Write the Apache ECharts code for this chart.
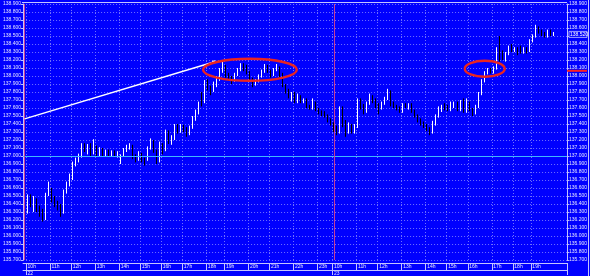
<!DOCTYPE html>
<html><head><meta charset="utf-8">
<script src="https://cdn.jsdelivr.net/npm/echarts@6/dist/echarts.min.js"></script>
<style>html,body{margin:0;padding:0;background:#0000ff;}#c{width:590px;height:276px;}</style>
</head><body><div id="c"></div>
<script>
// ---- data ----
const opens = [136.12,136.30,136.46,136.34,136.44,136.33,136.30,136.23,136.52,136.57,136.46,136.41,136.37,136.30,136.56,136.64,136.72,136.90,136.94,137.00,
137.12,137.06,137.11,137.04,137.11,137.03,137.08,137.03,137.06,137.02,137.05,137.01,136.92,137.00,137.07,137.10,137.12,136.98,136.96,137.02,
136.96,136.96,137.10,137.18,137.06,136.94,137.12,137.08,137.28,137.18,137.22,137.36,137.32,137.37,137.33,137.28,137.36,137.46,137.54,137.78,
137.68,137.92,137.86,137.82,137.88,137.96,138.06,138.12,138.02,137.99,137.95,138.02,138.08,138.12,138.10,138.05,137.96,137.91,137.94,138.00,
138.06,138.12,138.06,138.02,138.08,138.10,138.02,137.88,137.82,137.74,137.78,137.70,137.74,137.68,137.70,137.62,137.60,137.66,137.58,137.56,
137.54,137.50,137.45,137.40,137.34,137.30,137.58,137.40,137.30,137.38,137.32,137.38,137.68,137.62,137.56,137.66,137.74,137.70,137.64,137.60,
137.66,137.72,137.80,137.66,137.62,137.60,137.56,137.64,137.60,137.64,137.56,137.50,137.45,137.41,137.38,137.34,137.30,137.40,137.50,137.58,
137.62,137.62,137.58,137.62,137.66,137.58,137.68,137.56,137.66,137.58,137.54,137.62,137.78,137.94,138.04,138.08,138.05,138.10,138.44,138.30,
138.22,138.28,138.36,138.32,138.34,138.33,138.30,138.34,138.32,138.44,138.50,138.60,138.56,138.53,138.50,138.55,138.52];
const closes = [136.20,136.48,136.40,136.46,136.32,136.28,136.22,136.52,136.58,136.45,136.40,136.36,136.30,136.56,136.64,136.74,136.90,136.94,137.00,137.12,
137.08,137.12,137.03,137.12,137.03,137.08,137.02,137.06,137.02,137.05,137.01,137.03,137.00,137.07,137.10,137.13,136.98,136.96,137.04,136.94,
136.92,137.10,137.18,137.06,136.93,137.14,137.06,137.30,137.18,137.22,137.36,137.32,137.38,137.33,137.28,137.36,137.46,137.55,137.66,137.66,
137.92,137.86,137.80,137.90,137.96,138.06,138.12,138.00,137.98,137.93,138.02,138.08,138.12,138.10,138.05,137.96,137.90,137.94,138.00,138.06,
138.12,138.06,138.00,138.08,138.12,138.02,137.88,137.82,137.74,137.78,137.70,137.74,137.68,137.70,137.62,137.60,137.70,137.58,137.55,137.53,
137.50,137.45,137.40,137.32,137.30,137.55,137.40,137.30,137.38,137.32,137.38,137.68,137.62,137.56,137.66,137.74,137.70,137.64,137.60,137.66,
137.72,137.80,137.66,137.62,137.60,137.56,137.64,137.62,137.64,137.56,137.50,137.45,137.41,137.38,137.34,137.30,137.40,137.50,137.58,137.62,
137.60,137.58,137.64,137.66,137.58,137.66,137.56,137.70,137.58,137.54,137.62,137.78,137.94,138.04,138.08,138.05,138.10,138.34,138.26,138.24,
138.28,138.36,138.32,138.34,138.30,138.30,138.34,138.30,138.44,138.50,138.60,138.56,138.52,138.51,138.56,138.52,138.53];
const lows = [136.08,136.28,136.36,136.30,136.30,136.24,136.18,136.20,136.50,136.42,136.36,136.32,136.24,136.28,136.53,136.62,136.70,136.87,136.92,136.98,
137.05,137.02,137.00,137.02,137.00,137.00,136.99,137.00,137.00,137.00,136.99,136.98,136.90,136.99,137.05,137.08,136.96,136.92,136.94,136.92,
136.88,136.94,137.08,137.04,136.90,136.92,137.02,137.06,137.15,137.14,137.20,137.28,137.29,137.30,137.24,137.26,137.34,137.44,137.52,137.62,
137.66,137.82,137.76,137.80,137.86,137.94,138.04,137.98,137.94,137.90,137.93,138.00,138.06,138.06,138.02,137.94,137.86,137.88,137.92,137.98,
138.04,138.04,137.98,138.00,138.06,137.98,137.86,137.78,137.72,137.68,137.66,137.66,137.66,137.66,137.60,137.58,137.58,137.56,137.52,137.50,
137.48,137.42,137.38,137.30,137.26,137.28,137.36,137.24,137.28,137.28,137.28,137.35,137.58,137.52,137.54,137.64,137.66,137.60,137.52,137.58,
137.64,137.70,137.62,137.60,137.57,137.54,137.54,137.60,137.58,137.54,137.48,137.42,137.38,137.35,137.31,137.26,137.28,137.38,137.48,137.55,
137.57,137.56,137.56,137.60,137.56,137.56,137.54,137.54,137.56,137.50,137.52,137.60,137.76,137.92,138.02,138.03,138.03,138.08,138.18,138.20,
138.18,138.26,138.30,138.30,138.26,138.28,138.28,138.28,138.30,138.42,138.48,138.53,138.50,138.48,138.48,138.50,138.50];
const highs = [136.22,136.52,136.52,136.50,136.47,136.38,136.34,136.54,136.68,136.60,136.50,136.44,136.40,136.58,136.68,136.78,136.93,136.98,137.03,137.16,
137.16,137.15,137.16,137.21,137.13,137.11,137.10,137.08,137.08,137.07,137.07,137.06,137.02,137.10,137.14,137.16,137.14,137.02,137.06,137.04,
136.98,137.12,137.22,137.20,137.08,137.18,137.16,137.33,137.32,137.26,137.40,137.40,137.40,137.39,137.36,137.38,137.50,137.58,137.68,137.80,
137.95,137.96,137.88,137.93,138.00,138.10,138.18,138.14,138.04,138.00,138.04,138.10,138.16,138.16,138.14,138.06,137.98,137.96,138.02,138.08,
138.15,138.14,138.08,138.10,138.15,138.12,138.04,137.90,137.84,137.80,137.80,137.78,137.76,137.72,137.72,137.64,137.72,137.68,137.60,137.57,
137.56,137.52,137.47,137.42,137.38,137.62,137.62,137.45,137.42,137.40,137.40,137.72,137.72,137.65,137.68,137.78,137.76,137.72,137.66,137.68,
137.74,137.84,137.82,137.68,137.64,137.62,137.66,137.66,137.66,137.66,137.58,137.52,137.47,137.43,137.40,137.36,137.44,137.52,137.62,137.64,
137.66,137.64,137.68,137.68,137.68,137.70,137.72,137.72,137.68,137.60,137.64,137.80,137.96,138.06,138.10,138.10,138.12,138.36,138.50,138.32,
138.30,138.38,138.40,138.36,138.36,138.38,138.36,138.36,138.46,138.52,138.64,138.62,138.58,138.55,138.58,138.58,138.55];
const slotCount = 181;
const hourTickIdx = [1,9,16,24,32,39,46,53,61,67,75,82,90,98,103,111,118,126,134,141,148,156,163,169];
const hourTickLabels = ['10h','11h','12h','13h','14h','15h','16h','17h','18h','19h','20h','21h','22h','23h',
                        '10h','11h','12h','13h','14h','15h','16h','17h','18h','19h'];
const dateTickIdx = [1,103];
const dateTickLabels = ['22','23'];
const yMin = 135.7, yMax = 138.9, yStep = 0.1;
const refLevel = 137.0;
const alertLevel = 138.065;
const lastPrice = 138.52;
const separatorIdx = [0,103];
const trendStart = [0,137.465], trendEnd = [63,138.175];
// ellipse annotations: [leftIdx, rightIdx, lowPrice, highPrice]
const ellipseA = [59.4,90.6,137.94,138.215];
const ellipseB = [146.5,159.8,137.99,138.19];

// ---- chart ----
const cats = [];
for (let i = 0; i < slotCount; i++) cats.push('t' + i);
const hourMap = {}; hourTickIdx.forEach((k, j) => hourMap[k] = hourTickLabels[j]);
const dateMap = {}; dateTickIdx.forEach((k, j) => dateMap[k] = dateTickLabels[j]);
const candles = opens.map((o, i) => [o, closes[i], lows[i], highs[i]]);

const FONT = 'Liberation Sans';
const TXT = '#e4e4ff';
const AX = '#c4c4ff';
const GRIDC = '#7070ff';
const SEP = '#c83c96';
const isHour = i => hourMap[i] !== undefined;
const isDate = i => dateMap[i] !== undefined;

const chart = echarts.init(document.getElementById('c'), null, {renderer: 'canvas'});
const option = {
  animation: false,
  backgroundColor: '#0000ff',
  grid: {left: 23, right: 23, top: 4, bottom: 14, show: false},
  xAxis: [{
    type: 'category', data: cats, boundaryGap: true, position: 'bottom', offset: 3,
    axisLine: {show: true, lineStyle: {color: AX, width: 1}},
    axisTick: {show: true, length: 7, interval: i => isHour(i), lineStyle: {color: AX}},
    axisLabel: {interval: i => isHour(i), formatter: (v, i) => hourMap[i] || '', align: 'left',
      fontSize: 5, color: TXT, margin: 1, fontFamily: FONT},
    splitLine: {show: true, interval: i => isHour(i), lineStyle: {color: GRIDC, type: [1, 2], width: 1}}
  }, {
    type: 'category', data: cats, boundaryGap: true, position: 'bottom', offset: 10,
    axisLine: {show: true, lineStyle: {color: AX, width: 1}},
    axisTick: {show: true, length: 5, interval: i => isDate(i), lineStyle: {color: AX}},
    axisLabel: {interval: i => isDate(i), formatter: (v, i) => dateMap[i] || '', align: 'left',
      fontSize: 5, color: TXT, margin: 1, fontFamily: FONT},
    splitLine: {show: false}
  }],
  yAxis: [{
    type: 'value', min: yMin, max: yMax, interval: yStep, position: 'left', scale: true,
    axisLine: {show: true, lineStyle: {color: AX}},
    axisTick: {show: true, length: 2, lineStyle: {color: AX}},
    axisLabel: {fontSize: 5, color: TXT, margin: 2, fontFamily: FONT, formatter: v => v.toFixed(3)},
    splitLine: {show: true, lineStyle: {color: GRIDC, type: [1, 2], width: 1}}
  }, {
    type: 'value', min: yMin, max: yMax, interval: yStep, position: 'right', scale: true,
    axisLine: {show: true, lineStyle: {color: AX}},
    axisTick: {show: true, length: 2, lineStyle: {color: AX}},
    axisLabel: {fontSize: 5, color: TXT, margin: 2, fontFamily: FONT, formatter: v => v.toFixed(3)},
    splitLine: {show: false}
  }],
  series: [{
    type: 'candlestick', xAxisIndex: 0, yAxisIndex: 0, data: candles, barWidth: 1,
    itemStyle: {color: '#ffffff', color0: '#000000', borderColor: '#ffffff', borderColor0: '#000000', borderWidth: 1},
    markLine: {
      silent: true, symbol: 'none', label: {show: false}, animation: false,
      data: [
        {yAxis: refLevel, lineStyle: {color: '#3fb6ff', width: 1, type: 'solid'}},
        {xAxis: cats[separatorIdx[0]], lineStyle: {color: SEP, width: 1, type: 'solid'}},
        {xAxis: cats[separatorIdx[1]], lineStyle: {color: SEP, width: 1, type: 'solid'}},
        [{coord: [cats[trendStart[0]], trendStart[1]], symbol: 'none'},
         {coord: [cats[trendEnd[0]], trendEnd[1]], symbol: 'rect', symbolSize: 3,
          lineStyle: {color: '#ffffff', width: 1.4, type: 'solid'}}]
      ]
    }
  }]
};
chart.setOption(option);

const p0 = chart.convertToPixel({xAxisIndex: 0, yAxisIndex: 0}, [cats[0], yMin]);
const p1 = chart.convertToPixel({xAxisIndex: 0, yAxisIndex: 0}, [cats[1], yMax]);
const band = p1[0] - p0[0];
const xOf = idx => p0[0] + idx * band;
const yOf = v => chart.convertToPixel({yAxisIndex: 0}, v);
function ell(e) {
  const x1 = xOf(e[0]), x2 = xOf(e[1]), y1 = yOf(e[3]), y2 = yOf(e[2]);
  return {type: 'ellipse', silent: true, z: 100,
    shape: {cx: (x1 + x2) / 2, cy: (y1 + y2) / 2, rx: (x2 - x1) / 2, ry: (y2 - y1) / 2},
    style: {fill: 'none', stroke: '#ea2420', lineWidth: 2.4}};
}
const rightX = 590 - 23;
const ya = yOf(alertLevel), yl = yOf(lastPrice);
chart.setOption({graphic: [
  ell(ellipseA), ell(ellipseB),
  {type: 'line', silent: true, z: 100, shape: {x1: rightX, y1: ya, x2: 587, y2: ya}, style: {stroke: '#ff2020', lineWidth: 2}},
  {type: 'rect', silent: true, z: 100, shape: {x: rightX + 2, y: yl - 3, width: 18, height: 6},
    style: {fill: '#0000ff', stroke: '#c8c8ff', lineWidth: 0.8}},
  {type: 'text', silent: true, z: 101, style: {x: rightX + 3, y: yl, text: lastPrice.toFixed(3), fill: '#ffffff',
    font: '5px "Liberation Sans"', verticalAlign: 'middle', align: 'left'}},
  {type: 'line', silent: true, z: 100, shape: {x1: 588.5, y1: 0, x2: 588.5, y2: 276}, style: {stroke: AX, lineWidth: 1}},
  {type: 'line', silent: true, z: 100, shape: {x1: 22, y1: 2.5, x2: rightX, y2: 2.5}, style: {stroke: AX, lineWidth: 1}}
]});
</script>
</body></html>
